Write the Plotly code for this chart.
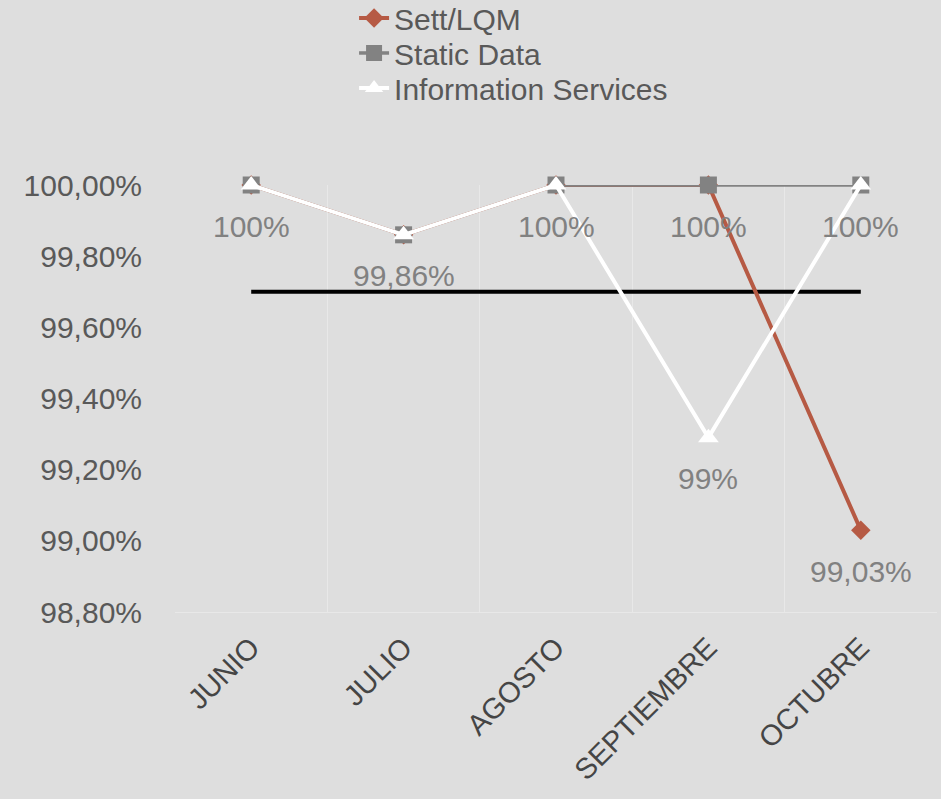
import plotly.graph_objects as go

months = ["JUNIO", "JULIO", "AGOSTO", "SEPTIEMBRE", "OCTUBRE"]
sett_lqm = [100.0, 99.86, 100.0, 100.0, 99.03]
static_data = [100.0, 99.86, 100.0, 100.0, 100.0]
info_services = [100.0, 99.86, 100.0, 99.29, 100.0]
target = [99.70, 99.70, 99.70, 99.70, 99.70]

static_labels = ["100%", "99,86%", "100%", "100%", "100%"]
info_labels = ["", "", "", "99%", ""]
sett_labels = ["", "", "", "", "99,03%"]

y_ticks = [98.8, 99.0, 99.2, 99.4, 99.6, 99.8, 100.0]
y_tick_text = ["98,80%", "99,00%", "99,20%", "99,40%", "99,60%", "99,80%", "100,00%"]

FONT = "Liberation Sans, Arial, sans-serif"
BG = "#dedede"

fig = go.Figure()

fig.add_trace(go.Scatter(
    x=months, y=target, mode="lines", showlegend=False,
    line=dict(color="#000000", width=4), hoverinfo="skip", cliponaxis=False))

fig.add_trace(go.Scatter(
    x=months, y=sett_lqm, mode="lines+markers", name="Sett/LQM", legend="legend",
    line=dict(color="#b65a44", width=4),
    marker=dict(symbol="diamond", size=15, color="#b65a44"), cliponaxis=False))

fig.add_trace(go.Scatter(
    x=months, y=static_data, mode="lines+markers", name="Static Data", legend="legend2",
    line=dict(color="#828282", width=3.5),
    marker=dict(symbol="square", size=17, color="#828282"), cliponaxis=False))

fig.add_trace(go.Scatter(
    x=months, y=info_services, mode="lines+markers", name="Information Services", legend="legend3",
    line=dict(color="#ffffff", width=4),
    marker=dict(symbol="triangle-up", size=18, color="#ffffff"), cliponaxis=False))

annotations = []
for lbls, vals in [(static_labels, static_data), (info_labels, info_services), (sett_labels, sett_lqm)]:
    for m, t, v in zip(months, lbls, vals):
        if t:
            annotations.append(dict(
                x=m, y=v, text=t, showarrow=False, yshift=-41,
                font=dict(family=FONT, size=30, color="#818181")))

def leg(y):
    return dict(x=0.235, xanchor="left", y=y, yanchor="middle", yref="container",
                bgcolor="rgba(0,0,0,0)", borderwidth=0,
                font=dict(family=FONT, size=30, color="#595959"))

fig.update_layout(
    width=941, height=799,
    paper_bgcolor=BG, plot_bgcolor=BG,
    margin=dict(l=175, r=4, t=185, b=187, autoexpand=False),
    font=dict(family=FONT, color="#595959"),
    annotations=annotations,
    legend=leg(0.9775),
    legend2=leg(0.9337),
    legend3=leg(0.8899),
    xaxis=dict(
        type="category", range=[-0.5, 4.5], tickson="boundaries",
        showgrid=True, gridcolor="#e8e8e8", gridwidth=1,
        ticks="", tickangle=-45, showline=True, linecolor="#e8e8e8",
        ticklabelstandoff=6,
        tickfont=dict(family=FONT, size=29, color="#454545"),
        zeroline=False),
    yaxis=dict(
        range=[98.8, 100.0], tickvals=y_ticks, ticktext=y_tick_text,
        showgrid=False, zeroline=False, showline=False, ticks="",
        ticklabelstandoff=32,
        tickfont=dict(family=FONT, size=30, color="#595959")),
)

fig.write_html("out.html", config={"displayModeBar": False},
               post_script="document.body.style.margin='0';")
